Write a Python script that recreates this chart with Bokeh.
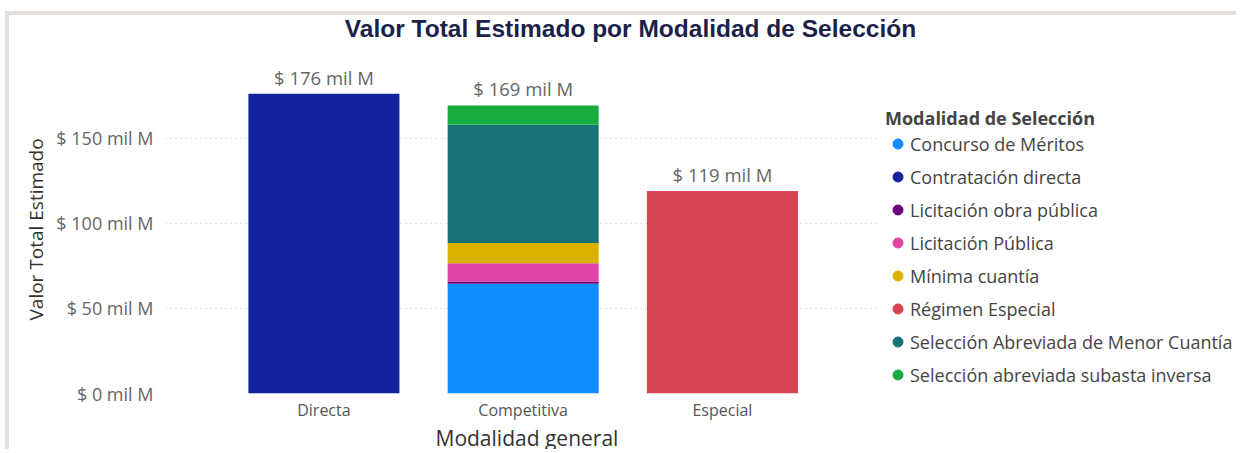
from bokeh.plotting import figure
from bokeh.models import (ColumnDataSource, FixedTicker, Label, Legend, LegendItem,
                          PrintfTickFormatter, Range1d, Title)
from bokeh.core.properties import value
from bokeh.embed import file_html
from bokeh.resources import INLINE

# ---------------- data ----------------
categories = ["Directa", "Competitiva", "Especial"]
series = [
    "Concurso de Méritos",
    "Contratación directa",
    "Licitación obra pública",
    "Licitación Pública",
    "Mínima cuantía",
    "Régimen Especial",
    "Selección Abreviada de Menor Cuantía",
    "Selección abreviada subasta inversa",
]
colors = ["#118DFF", "#12239E", "#6B007B", "#E044A7",
          "#D9B300", "#D64550", "#197278", "#1AAB40"]
# values in "mil M" (thousands of millions)
concurso = [0, 64.5, 0]
contratacion = [176, 0, 0]
obra_publica = [0, 1.3, 0]
licitacion = [0, 10.7, 0]
minima = [0, 11.9, 0]
regimen = [0, 0, 119]
samc = [0, 69.5, 0]
subasta = [0, 11.3, 0]
y_ticks = [0, 50, 100, 150]

values = [concurso, contratacion, obra_publica, licitacion, minima, regimen, samc, subasta]
keys = [f"s{i}" for i in range(len(series))]
xs = list(range(len(categories)))
data = {"x": xs}
for k, v in zip(keys, values):
    data[k] = v
totals = [sum(v[i] for v in values) for i in xs]
data["total"] = totals
data["label"] = [f"$ {round(t)} mil M" for t in totals]
src = ColumnDataSource(data)

FONT = "Open Sans"
Y_END = 222.0

p = figure(width=1231, height=438, output_backend="svg", toolbar_location=None,
           x_range=Range1d(-0.795, 4.60), y_range=Range1d(0, Y_END),
           min_border_left=156, min_border_right=0, min_border_top=0, min_border_bottom=55)
p.outline_line_color = None
p.styles = {"margin-left": "5px", "margin-top": "11px",
            "border-left": "4px solid #e4dfdb", "border-top": "4px solid #e4dfdb"}

p.vbar_stack(keys, x="x", width=0.758, color=colors, source=src, line_color=None)

p.text(x="x", y="total", text="label", source=src, text_align="center",
       text_baseline="bottom", y_offset=-4, text_font=value(FONT),
       text_font_size="18.5px", text_color="#666666")

# grid (dotted, limited to the chart area left of the legend)
p.xgrid.grid_line_color = None
p.ygrid.grid_line_color = "#c4c4c4"
p.ygrid.grid_line_dash = "1 4"
p.ygrid.grid_line_width = 1
if "cross_bounds" in p.ygrid[0].properties():
    p.ygrid.cross_bounds = (-0.795, 2.79)

p.yaxis.ticker = FixedTicker(ticks=y_ticks)
p.yaxis.formatter = PrintfTickFormatter(format="$ %d mil M")
p.yaxis.axis_line_color = None
p.yaxis.major_tick_line_color = None
p.yaxis.minor_tick_line_color = None
p.yaxis.major_tick_out = 0
p.yaxis.major_tick_in = 0
p.yaxis.minor_tick_out = 0
p.yaxis.major_label_standoff = 12
p.yaxis.major_label_text_font = FONT
p.yaxis.major_label_text_font_size = "18px"
p.yaxis.major_label_text_color = "#666666"

p.xaxis.ticker = FixedTicker(ticks=xs)
p.xaxis.major_label_overrides = {i: c for i, c in zip(xs, categories)}
p.xaxis.axis_line_color = None
p.xaxis.major_tick_line_color = None
p.xaxis.minor_tick_line_color = None
p.xaxis.major_tick_out = 0
p.xaxis.major_tick_in = 0
p.xaxis.minor_tick_out = 0
p.xaxis.major_label_standoff = 5
p.xaxis.major_label_text_font = FONT
p.xaxis.major_label_text_font_size = "16px"
p.xaxis.major_label_text_color = "#555555"

# axis titles, placed like the reference (centred on the bar area, not the full frame)
def axis_title(text, size, offset, standoff, valign):
    t = Title(text=text, align="left", offset=offset, text_font=FONT,
              text_font_size=size, text_font_style="normal", text_color="#333333",
              vertical_align=valign)
    if "standoff" in t.properties():
        t.standoff = standoff
    return t

p.add_layout(axis_title("Modalidad general", "21px", 270, 0, "top"), "below")
p.add_layout(axis_title("Valor Total Estimado", "19px", 73, 10, "bottom"), "left")

# chart title, anchored to the top of the plot area
p.add_layout(Label(x=465, y=Y_END, x_units="screen", y_units="data", y_offset=-13,
                   text="Valor Total Estimado por Modalidad de Selección",
                   text_align="center", text_baseline="middle",
                   text_font="Liberation Sans", text_font_style="bold",
                   text_font_size="24.5px", text_color="#1b1f4a"))

# legend with circle markers
nan = float("nan")
items = []
for s, c in zip(series, colors):
    r = p.scatter(x=[nan], y=[nan], marker="circle", size=11, fill_color=c, line_color=c)
    items.append(LegendItem(label=s, renderers=[r]))
legend = Legend(items=items, title="Modalidad de Selección", location=(720, 6),
                margin=0, padding=0, spacing=8, label_height=25, glyph_width=25,
                glyph_height=25, label_standoff=0, title_standoff=1,
                title_text_font=FONT, title_text_font_style="bold",
                title_text_font_size="18px", title_text_color="#444444",
                label_text_font=FONT, label_text_font_size="18px",
                label_text_color="#444444", border_line_color=None,
                background_fill_alpha=0)
p.add_layout(legend, "center")

open("out.html", "w").write(file_html(p, INLINE))
